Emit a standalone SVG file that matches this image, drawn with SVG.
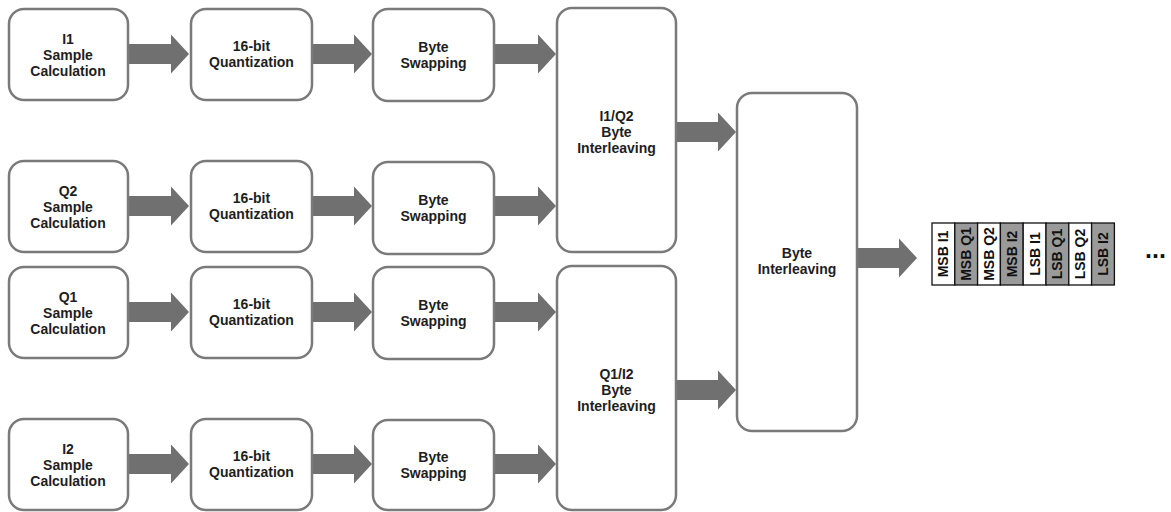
<svg xmlns="http://www.w3.org/2000/svg" width="1171" height="512" viewBox="0 0 1171 512">
<style>
.box{fill:#fff;stroke:#7a7a7a;stroke-width:2.5}
.t{font-family:"Liberation Sans",Arial,sans-serif;font-weight:bold;font-size:14px;fill:#1e1e1e;text-anchor:middle}
.arr{fill:#707070}
.cw{fill:#fff;stroke:#111;stroke-width:1.3}
.cg{fill:#9a9a9a;stroke:#111;stroke-width:1.3}
.ct{font-family:"Liberation Sans",Arial,sans-serif;font-weight:bold;font-size:14px;fill:#111;text-anchor:middle}
</style>
<defs>
<path id="a" d="M0,-10 H-61 V10 H0 Z" />
</defs>
<rect width="1171" height="512" fill="#fff"/>
<g id="connectors" class="arr">
<!-- row 1 -->
<polygon points="128,44 171,44 171,34.5 189,54 171,73.5 171,64 128,64"/>
<polygon points="312,44 354,44 354,34.5 372,54 354,73.5 354,64 312,64"/>
<polygon points="494,44 538,44 538,34.5 556,54 538,73.5 538,64 494,64"/>
<!-- row 2 -->
<polygon points="128,196 171,196 171,186.5 189,206 171,225.5 171,216 128,216"/>
<polygon points="312,196 354,196 354,186.5 372,206 354,225.5 354,216 312,216"/>
<polygon points="494,196 538,196 538,186.5 556,206 538,225.5 538,216 494,216"/>
<!-- row 3 -->
<polygon points="128,302 171,302 171,292.5 189,312 171,331.5 171,322 128,322"/>
<polygon points="312,302 354,302 354,292.5 372,312 354,331.5 354,322 312,322"/>
<polygon points="494,302 538,302 538,292.5 556,312 538,331.5 538,322 494,322"/>
<!-- row 4 -->
<polygon points="128,454 171,454 171,444.5 189,464 171,483.5 171,474 128,474"/>
<polygon points="312,454 354,454 354,444.5 372,464 354,483.5 354,474 312,474"/>
<polygon points="494,454 538,454 538,444.5 556,464 538,483.5 538,474 494,474"/>
<!-- to byte interleaving -->
<polygon points="676,122 718,122 718,112.5 736,132 718,151.5 718,142 676,142"/>
<polygon points="676,380 718,380 718,370.5 736,390 718,409.5 718,400 676,400"/>
<!-- to table -->
<polygon points="857,248 899,248 899,238.5 917,258 899,277.5 899,268 857,268"/>
</g>
<g id="i1-calc"><rect class="box" x="9" y="9" width="119" height="91" rx="15"/><text class="t" x="68" y="44">I1</text><text class="t" x="68" y="60">Sample</text><text class="t" x="68" y="76">Calculation</text></g>
<g id="i1-quant"><rect class="box" x="191" y="9" width="121" height="91" rx="15"/><text class="t" x="251.5" y="51">16-bit</text><text class="t" x="251.5" y="67">Quantization</text></g>
<g id="i1-swap"><rect class="box" x="373" y="9" width="121" height="92" rx="15"/><text class="t" x="433.5" y="52">Byte</text><text class="t" x="433.5" y="68">Swapping</text></g>
<g id="q2-calc"><rect class="box" x="9" y="161" width="119" height="91" rx="15"/><text class="t" x="68" y="196">Q2</text><text class="t" x="68" y="212">Sample</text><text class="t" x="68" y="228">Calculation</text></g>
<g id="q2-quant"><rect class="box" x="191" y="161" width="121" height="91" rx="15"/><text class="t" x="251.5" y="203">16-bit</text><text class="t" x="251.5" y="219">Quantization</text></g>
<g id="q2-swap"><rect class="box" x="373" y="162" width="121" height="92" rx="15"/><text class="t" x="433.5" y="205">Byte</text><text class="t" x="433.5" y="221">Swapping</text></g>
<g id="q1-calc"><rect class="box" x="9" y="267" width="119" height="91" rx="15"/><text class="t" x="68" y="302">Q1</text><text class="t" x="68" y="318">Sample</text><text class="t" x="68" y="334">Calculation</text></g>
<g id="q1-quant"><rect class="box" x="191" y="267" width="121" height="91" rx="15"/><text class="t" x="251.5" y="309">16-bit</text><text class="t" x="251.5" y="325">Quantization</text></g>
<g id="q1-swap"><rect class="box" x="373" y="267" width="121" height="92" rx="15"/><text class="t" x="433.5" y="310">Byte</text><text class="t" x="433.5" y="326">Swapping</text></g>
<g id="i2-calc"><rect class="box" x="9" y="419" width="119" height="91" rx="15"/><text class="t" x="68" y="454">I2</text><text class="t" x="68" y="470">Sample</text><text class="t" x="68" y="486">Calculation</text></g>
<g id="i2-quant"><rect class="box" x="191" y="419" width="121" height="91" rx="15"/><text class="t" x="251.5" y="461">16-bit</text><text class="t" x="251.5" y="477">Quantization</text></g>
<g id="i2-swap"><rect class="box" x="373" y="420" width="121" height="90" rx="15"/><text class="t" x="433.5" y="462">Byte</text><text class="t" x="433.5" y="478">Swapping</text></g>
<g id="i1q2-interleave"><rect class="box" x="557" y="8" width="119" height="244" rx="15"/><text class="t" x="616.5" y="121">I1/Q2</text><text class="t" x="616.5" y="137">Byte</text><text class="t" x="616.5" y="153">Interleaving</text></g>
<g id="q1i2-interleave"><rect class="box" x="557" y="266" width="119" height="244" rx="15"/><text class="t" x="616.5" y="379">Q1/I2</text><text class="t" x="616.5" y="395">Byte</text><text class="t" x="616.5" y="411">Interleaving</text></g>
<g id="byte-interleave"><rect class="box" x="737" y="93" width="120" height="338" rx="15"/><text class="t" x="797" y="258">Byte</text><text class="t" x="797" y="274">Interleaving</text></g>
<g id="byte-stream">
<rect class="cw" x="932" y="223" width="22.8" height="62"/>
<rect class="cg" x="954.8" y="223" width="22.8" height="62"/>
<rect class="cw" x="977.6" y="223" width="22.8" height="62"/>
<rect class="cg" x="1000.4" y="223" width="22.8" height="62"/>
<rect class="cw" x="1023.2" y="223" width="22.8" height="62"/>
<rect class="cg" x="1046" y="223" width="22.8" height="62"/>
<rect class="cw" x="1068.8" y="223" width="22.8" height="62"/>
<rect class="cg" x="1091.6" y="223" width="22.8" height="62"/>
<text class="ct" transform="translate(948.4,254) rotate(-90)">MSB I1</text>
<text class="ct" transform="translate(971.2,254) rotate(-90)">MSB Q1</text>
<text class="ct" transform="translate(994,254) rotate(-90)">MSB Q2</text>
<text class="ct" transform="translate(1016.8,254) rotate(-90)">MSB I2</text>
<text class="ct" transform="translate(1039.6,254) rotate(-90)">LSB I1</text>
<text class="ct" transform="translate(1062.4,254) rotate(-90)">LSB Q1</text>
<text class="ct" transform="translate(1085.2,254) rotate(-90)">LSB Q2</text>
<text class="ct" transform="translate(1108,254) rotate(-90)">LSB I2</text>
</g>
<g id="ellipsis"><text x="1145" y="258" style="font-family:'Liberation Sans',Arial,sans-serif;font-weight:bold;font-size:25px;fill:#111">...</text></g>
</svg>
